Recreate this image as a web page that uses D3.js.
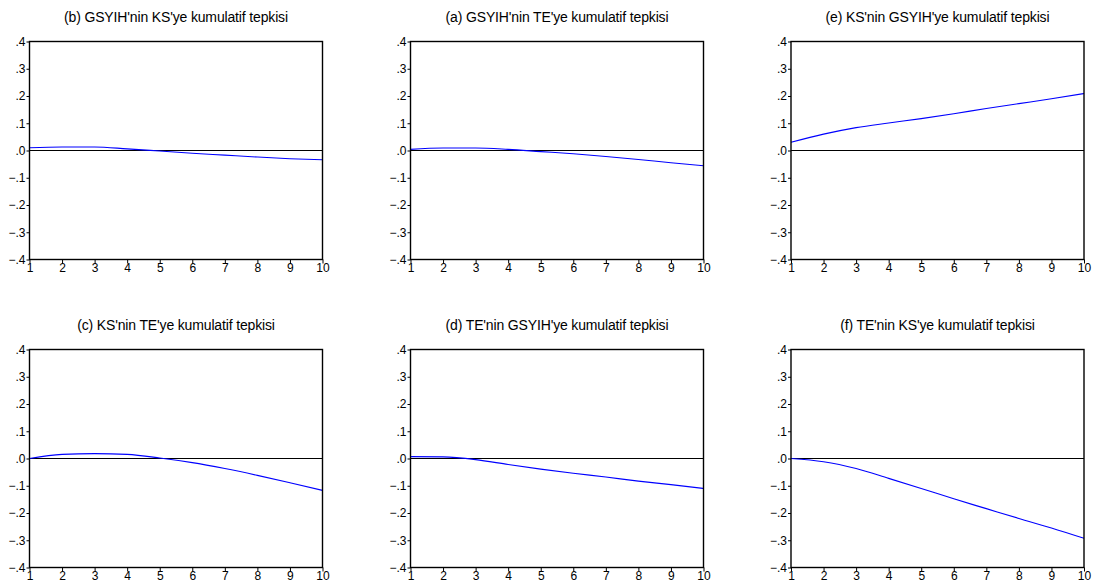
<!DOCTYPE html>
<html>
<head>
<meta charset="utf-8">
<script src="https://cdn.jsdelivr.net/npm/d3@7"></script>
<style>
  body { margin: 0; background: #fff; }
  svg text { font-family: "Liberation Sans", Arial, sans-serif; }
</style>
</head>
<body>
<svg id="chart" width="1093" height="588"></svg>
<script>
(function () {
    // periods on the x axis and y tick values
    const periods = [1, 2, 3, 4, 5, 6, 7, 8, 9, 10]
    const yTicks = [-0.4, -0.3, -0.2, -0.1, 0, 0.1, 0.2, 0.3, 0.4]

    const titles = [
        "(b) GSYIH'nin KS'ye kumulatif tepkisi",
        "(a) GSYIH'nin TE'ye kumulatif tepkisi",
        "(e) KS'nin GSYIH'ye kumulatif tepkisi",
        "(c) KS'nin TE'ye kumulatif tepkisi",
        "(d) TE'nin GSYIH'ye kumulatif tepkisi",
        "(f) TE'nin KS'ye kumulatif tepkisi"
    ]

    // cumulative responses
    const gsyihKs = [0.010, 0.013, 0.013, 0.006, -0.002, -0.010, -0.017, -0.024, -0.030, -0.034]
    const gsyihTe = [0.004, 0.009, 0.009, 0.004, -0.004, -0.012, -0.022, -0.033, -0.045, -0.056]
    const ksGsyih = [0.030, 0.060, 0.084, 0.101, 0.117, 0.135, 0.154, 0.172, 0.190, 0.209]
    const ksTe = [0.000, 0.015, 0.018, 0.015, 0.002, -0.015, -0.037, -0.062, -0.089, -0.117]
    const teGsyih = [0.007, 0.006, -0.004, -0.022, -0.039, -0.054, -0.068, -0.083, -0.096, -0.110]
    const teKs = [0.000, -0.012, -0.037, -0.073, -0.110, -0.148, -0.184, -0.220, -0.255, -0.293]

    const series = [gsyihKs, gsyihTe, ksGsyih, ksTe, teGsyih, teKs]

    // panel frames: left edge of each column, top of each row
    const lefts = [29.5, 410.5, 791]
    const tops = [41.5, 349.5]
    const w = 293, h = 218

    const svg = d3.select("#chart")

    const fmt = (d) => {
        if (d === 0) return ".0"
        return d3.format(".1f")(d).replace("0.", ".")
    }

    series.forEach((vals, i) => {
        const col = i % 3, row = Math.floor(i / 3)
        const g = svg.append("g")
            .attr("transform", `translate(${lefts[col]},${tops[row]})`)

        const x = d3.scaleLinear().domain([1, 10]).range([0, w])
        const y = d3.scaleLinear().domain([-0.4, 0.4]).range([h, 0])

        // title
        g.append("text")
            .attr("x", w / 2)
            .attr("y", -20)
            .attr("text-anchor", "middle")
            .style("font-size", "14px")
            .style("letter-spacing", "-0.15px")
            .text(titles[i])

        // zero line
        g.append("line")
            .attr("x1", 0).attr("x2", w)
            .attr("y1", y(0)).attr("y2", y(0))
            .attr("stroke", "#000")
            .attr("stroke-width", 1)

        // response line
        const line = d3.line()
            .x((d, j) => x(periods[j]))
            .y((d) => y(d))
            .curve(d3.curveMonotoneX)
        g.append("path")
            .datum(vals)
            .attr("d", line)
            .attr("fill", "none")
            .attr("stroke", "#0000ff")
            .attr("stroke-width", 1.1)

        // axes
        const yAxis = g.append("g")
            .call(d3.axisLeft(y).tickValues(yTicks).tickFormat(fmt).tickSize(3).tickPadding(1))
        const xAxis = g.append("g")
            .attr("transform", `translate(0,${h})`)
            .call(d3.axisBottom(x).tickValues(periods).tickFormat(d3.format("d")).tickSize(4).tickPadding(0))
        ;[yAxis, xAxis].forEach((a) => {
            a.select(".domain").remove()
            a.selectAll("line").attr("stroke", "#000")
            a.selectAll("text")
                .attr("fill", "#000")
                .style("font-size", "12px")
                .style("font-family", "'Liberation Sans', Arial, sans-serif")
        })

        // frame
        g.append("rect")
            .attr("width", w).attr("height", h)
            .attr("fill", "none")
            .attr("stroke", "#000")
            .attr("stroke-width", 1.4)
    })
})();
</script>
</body>
</html>
